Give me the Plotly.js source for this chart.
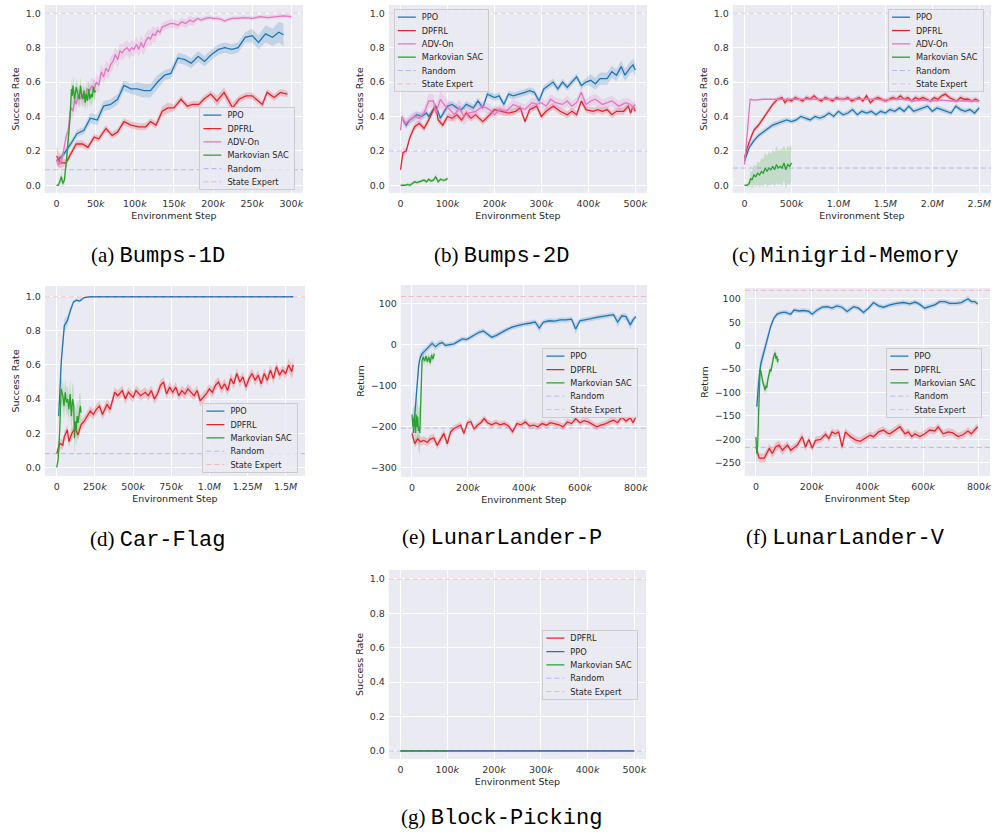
<!DOCTYPE html>
<html><head><meta charset="utf-8">
<script src="https://cdn.plot.ly/plotly-3.0.1.min.js"></script>
<style>body{margin:0;background:#fff}#chart{width:997px;height:837px}</style>
</head><body><div id="chart"></div>
<script>
// ---------------- DATA (x in thousands of environment steps) ----------------
// (a) Bumps-1D
const a_ppo_x = [0,9,18,26,35,43,52,60,69,78,86,95,103,112,120,129,138,146,155,164,172,181,189,198,207,215,224,232,241,250,258,267,276,284,290];
const a_ppo_y = [0.14,0.18,0.24,0.30,0.32,0.39,0.38,0.46,0.47,0.50,0.58,0.56,0.56,0.55,0.55,0.60,0.64,0.65,0.74,0.73,0.71,0.75,0.72,0.76,0.79,0.80,0.79,0.80,0.86,0.87,0.83,0.88,0.86,0.89,0.875];
const a_ppo_sd = [0.02,0.02,0.02,0.02,0.02,0.03,0.03,0.03,0.03,0.03,0.03,0.03,0.04,0.04,0.04,0.04,0.03,0.03,0.03,0.03,0.03,0.03,0.03,0.03,0.03,0.03,0.03,0.03,0.03,0.04,0.04,0.05,0.05,0.06,0.065];
const a_dpfrl_x = [0,5,12,18,25,33,40,48,54,63,71,78,86,95,105,114,120,127,135,142,150,159,167,174,182,188,197,205,214,225,233,242,250,263,269,278,286,295];
const a_dpfrl_y = [0.17,0.13,0.13,0.18,0.24,0.24,0.22,0.28,0.27,0.33,0.29,0.31,0.37,0.35,0.34,0.34,0.37,0.35,0.43,0.45,0.45,0.50,0.46,0.47,0.47,0.50,0.53,0.49,0.54,0.45,0.50,0.52,0.52,0.47,0.54,0.51,0.54,0.53];
const a_dpfrl_sd = [0.06,0.03,0.02,0.02,0.02,0.02,0.02,0.02,0.02,0.02,0.02,0.02,0.02,0.02,0.02,0.02,0.02,0.02,0.03,0.03,0.02,0.02,0.02,0.02,0.02,0.02,0.02,0.03,0.03,0.03,0.02,0.02,0.02,0.02,0.02,0.02,0.02,0.02];
const a_adv_x = [0,3,6,9,12,15,17,19,21,23,25,27,30,33,36,39,42,45,48,51,54,57,60,63,66,69,72,75,78,81,84,87,90,93,96,99,102,105,108,111,114,117,120,123,126,129,132,135,140,145,150,155,160,165,170,175,180,185,190,195,200,205,210,215,220,225,230,240,250,260,270,280,290,300];
const a_adv_y = [0.15,0.12,0.14,0.20,0.28,0.32,0.42,0.45,0.43,0.50,0.47,0.52,0.50,0.53,0.50,0.56,0.55,0.58,0.56,0.60,0.58,0.66,0.63,0.68,0.66,0.70,0.72,0.76,0.73,0.78,0.77,0.79,0.80,0.78,0.80,0.79,0.82,0.79,0.83,0.80,0.84,0.86,0.85,0.88,0.87,0.90,0.89,0.92,0.93,0.94,0.94,0.93,0.95,0.94,0.96,0.95,0.97,0.96,0.97,0.975,0.97,0.97,0.965,0.955,0.965,0.97,0.97,0.975,0.97,0.98,0.975,0.98,0.985,0.98];
const a_adv_sd = [0.03,0.03,0.03,0.03,0.03,0.03,0.05,0.05,0.05,0.05,0.05,0.05,0.05,0.05,0.05,0.05,0.05,0.05,0.05,0.05,0.045,0.045,0.045,0.045,0.045,0.045,0.045,0.045,0.045,0.045,0.045,0.045,0.045,0.045,0.045,0.045,0.045,0.045,0.045,0.045,0.045,0.045,0.045,0.045,0.045,0.025,0.025,0.025,0.025,0.025,0.025,0.025,0.025,0.025,0.025,0.025,0.012,0.012,0.012,0.012,0.012,0.012,0.012,0.012,0.012,0.012,0.012,0.012,0.012,0.012,0.012,0.012,0.012,0.012];
const a_sac_x = [0,2,4,6,8,10,12.5,15,17,19,20,21,23,25,27,29,30.5,32,33.5,35,36.5,38,39.5,41,42.5,44,45.5,47,48.5,50];
const a_sac_y = [0.0,0.0,0.02,0.05,0.01,0.03,0.14,0.25,0.38,0.56,0.52,0.58,0.50,0.57,0.53,0.50,0.58,0.52,0.50,0.55,0.48,0.53,0.49,0.56,0.50,0.53,0.51,0.57,0.54,0.55];
const a_sac_sd = [0.005,0.005,0.02,0.03,0.02,0.03,0.05,0.06,0.07,0.06,0.06,0.06,0.05,0.05,0.05,0.05,0.05,0.05,0.05,0.05,0.05,0.05,0.05,0.05,0.05,0.05,0.05,0.05,0.05,0.05];
const a_random = 0.09, a_expert = 1.0;

// (b) Bumps-2D
const b_ppo_x = [5,12,20,25,35,45,55,60,70,75,85,100,110,120,130,140,155,165,175,185,200,210,220,230,240,255,265,275,285,295,305,315,325,335,345,355,365,375,385,395,405,415,425,440,450,460,470,478,488,495,500];
const b_ppo_y = [0.38,0.35,0.38,0.39,0.41,0.40,0.42,0.40,0.44,0.46,0.39,0.46,0.47,0.45,0.44,0.47,0.45,0.49,0.45,0.53,0.51,0.52,0.47,0.53,0.52,0.53,0.54,0.55,0.54,0.49,0.56,0.58,0.60,0.56,0.60,0.57,0.60,0.63,0.58,0.60,0.61,0.59,0.62,0.62,0.66,0.64,0.69,0.64,0.68,0.70,0.67];
const b_ppo_sd = [0.02,0.02,0.02,0.02,0.02,0.02,0.02,0.02,0.02,0.02,0.02,0.02,0.02,0.02,0.02,0.02,0.02,0.02,0.02,0.02,0.02,0.02,0.02,0.02,0.02,0.02,0.02,0.02,0.02,0.02,0.02,0.02,0.02,0.02,0.02,0.02,0.02,0.02,0.02,0.02,0.035,0.035,0.035,0.035,0.035,0.035,0.035,0.035,0.035,0.035,0.035];
const b_dpfrl_x = [0,5,12,20,30,40,50,60,70,75,80,90,100,110,120,130,140,150,160,175,190,200,215,230,245,255,265,275,290,300,310,325,340,355,365,375,385,395,410,420,430,440,450,460,475,485,490,495,500];
const b_dpfrl_y = [0.09,0.19,0.20,0.28,0.34,0.36,0.33,0.38,0.44,0.46,0.38,0.35,0.40,0.39,0.41,0.38,0.42,0.39,0.41,0.37,0.41,0.44,0.43,0.42,0.43,0.45,0.37,0.44,0.46,0.40,0.43,0.46,0.43,0.41,0.43,0.41,0.49,0.44,0.43,0.44,0.43,0.44,0.41,0.43,0.43,0.46,0.42,0.46,0.43];
const b_dpfrl_sd = [0.02,0.02,0.02,0.02,0.02,0.02,0.02,0.02,0.02,0.02,0.02,0.02,0.02,0.02,0.02,0.02,0.02,0.02,0.02,0.02,0.02,0.02,0.02,0.02,0.02,0.02,0.02,0.02,0.02,0.02,0.02,0.02,0.02,0.02,0.02,0.02,0.02,0.02,0.02,0.02,0.02,0.02,0.02,0.02,0.02,0.02,0.02,0.02,0.02];
const b_adv_x = [0,3,10,20,30,40,50,60,70,75,85,95,105,115,125,135,145,160,175,190,200,210,225,240,255,265,280,290,300,310,320,330,345,355,365,375,385,395,405,415,430,440,450,465,480,490,495,500];
const b_adv_y = [0.32,0.40,0.36,0.38,0.40,0.39,0.42,0.49,0.49,0.42,0.50,0.46,0.44,0.41,0.45,0.40,0.42,0.43,0.46,0.44,0.41,0.44,0.43,0.47,0.45,0.44,0.48,0.47,0.48,0.46,0.50,0.48,0.47,0.49,0.46,0.48,0.54,0.47,0.49,0.50,0.47,0.48,0.49,0.46,0.48,0.47,0.45,0.47];
const b_adv_sd = [0.03,0.03,0.03,0.03,0.03,0.03,0.03,0.04,0.04,0.04,0.05,0.05,0.05,0.05,0.05,0.05,0.04,0.03,0.03,0.03,0.03,0.03,0.03,0.03,0.03,0.03,0.03,0.03,0.03,0.03,0.03,0.03,0.03,0.03,0.03,0.03,0.03,0.03,0.03,0.03,0.03,0.03,0.03,0.03,0.03,0.03,0.03,0.03];
const b_sac_x = [0,5,10,15,20,25,30,35,40,45,50,55,60,65,70,75,80,85,90,95,100];
const b_sac_y = [0.0,0.0,0.0,0.005,0.0,0.01,0.02,0.015,0.02,0.025,0.03,0.02,0.035,0.025,0.03,0.05,0.02,0.035,0.03,0.03,0.04];
const b_sac_sd = [0.003,0.003,0.005,0.01,0.01,0.01,0.01,0.01,0.01,0.01,0.01,0.01,0.01,0.01,0.01,0.015,0.01,0.01,0.01,0.01,0.01];
const b_random = 0.2, b_expert = 1.0;

// (c) Minigrid-Memory
const c_ppo_x = [0,50,100,150,200,250,300,350,400,450,500,550,600,650,700,750,800,850,900,950,1000,1050,1100,1150,1200,1250,1300,1350,1400,1450,1500,1550,1600,1650,1700,1750,1800,1850,1900,1950,2000,2050,2100,2150,2200,2250,2300,2350,2400,2450,2500];
const c_ppo_y = [0.14,0.22,0.26,0.29,0.31,0.33,0.35,0.36,0.37,0.38,0.37,0.38,0.40,0.39,0.38,0.40,0.39,0.40,0.42,0.40,0.43,0.41,0.42,0.44,0.41,0.43,0.42,0.43,0.41,0.43,0.42,0.44,0.43,0.45,0.43,0.46,0.43,0.44,0.45,0.46,0.43,0.45,0.44,0.43,0.42,0.46,0.44,0.43,0.44,0.42,0.45];
const c_ppo_sd = [0.02,0.015,0.015,0.015,0.015,0.015,0.015,0.015,0.015,0.015,0.015,0.015,0.015,0.015,0.015,0.015,0.015,0.015,0.015,0.015,0.015,0.015,0.015,0.015,0.015,0.015,0.015,0.015,0.015,0.015,0.015,0.015,0.015,0.015,0.015,0.015,0.015,0.015,0.015,0.015,0.015,0.015,0.015,0.015,0.015,0.015,0.015,0.015,0.015,0.015,0.015];
const c_dpfrl_x = [0,30,70,100,150,200,250,300,350,400,430,460,500,540,580,620,660,700,740,780,820,860,900,940,980,1020,1060,1100,1140,1180,1220,1260,1300,1340,1380,1420,1460,1500,1540,1580,1620,1660,1700,1740,1780,1820,1860,1900,1940,1980,2020,2060,2100,2140,2180,2220,2260,2300,2340,2380,2420,2460,2500];
const c_dpfrl_y = [0.16,0.22,0.28,0.32,0.35,0.39,0.43,0.47,0.50,0.51,0.48,0.50,0.49,0.51,0.50,0.49,0.51,0.50,0.52,0.50,0.49,0.51,0.50,0.49,0.51,0.50,0.50,0.51,0.49,0.50,0.51,0.49,0.52,0.48,0.50,0.51,0.50,0.49,0.50,0.51,0.50,0.52,0.50,0.51,0.49,0.51,0.50,0.51,0.50,0.49,0.51,0.50,0.52,0.53,0.51,0.50,0.49,0.51,0.50,0.50,0.49,0.50,0.49];
const c_dpfrl_sd = [0.02,0.015,0.015,0.015,0.015,0.015,0.015,0.015,0.015,0.015,0.015,0.015,0.015,0.015,0.015,0.015,0.015,0.015,0.015,0.015,0.015,0.015,0.015,0.015,0.015,0.015,0.015,0.015,0.015,0.015,0.015,0.015,0.015,0.015,0.015,0.015,0.015,0.015,0.015,0.015,0.015,0.015,0.015,0.015,0.015,0.015,0.015,0.015,0.015,0.015,0.015,0.015,0.015,0.015,0.015,0.015,0.015,0.015,0.015,0.015,0.015,0.015,0.015];
const c_adv_x = [0,60,100,200,300,400,500,600,700,800,900,1000,1100,1200,1300,1400,1500,1600,1700,1800,1900,2000,2100,2200,2300,2400,2500];
const c_adv_y = [0.12,0.50,0.495,0.50,0.50,0.50,0.50,0.50,0.50,0.50,0.50,0.50,0.50,0.50,0.50,0.50,0.495,0.50,0.50,0.49,0.495,0.49,0.495,0.49,0.49,0.49,0.49];
const c_adv_sd = [0.01,0.005,0.005,0.005,0.005,0.005,0.005,0.005,0.005,0.005,0.005,0.005,0.005,0.005,0.005,0.005,0.005,0.005,0.005,0.005,0.005,0.005,0.005,0.005,0.005,0.005,0.005];
const c_sac_x = [0,25,50,65,80,100,120,140,160,180,200,220,240,260,280,300,320,340,360,380,400,420,440,460,480,500];
const c_sac_y = [0.0,0.0,0.01,0.04,0.03,0.06,0.05,0.07,0.06,0.08,0.07,0.10,0.08,0.10,0.09,0.11,0.09,0.12,0.10,0.11,0.10,0.13,0.09,0.12,0.11,0.13];
const c_sac_sd = [0.0,0.005,0.02,0.04,0.05,0.06,0.06,0.07,0.07,0.08,0.08,0.09,0.09,0.10,0.09,0.10,0.10,0.11,0.10,0.10,0.11,0.10,0.11,0.11,0.11,0.11];
const c_random = 0.1, c_expert = 1.0;

// (d) Car-Flag
const d_ppo_x = [13,30,50,70,90,110,130,150,180,220,300,400,500,600,700,800,900,1000,1100,1200,1300,1400,1500,1550];
const d_ppo_y = [0.30,0.62,0.83,0.86,0.92,0.97,0.98,0.975,0.995,1.0,1.0,1.0,1.0,1.0,1.0,1.0,1.0,1.0,1.0,1.0,1.0,1.0,1.0,1.0];
const d_ppo_sd = [0.02,0.05,0.04,0.03,0.02,0.01,0.01,0.01,0.005,0.003,0.002,0.002,0.002,0.002,0.002,0.002,0.002,0.002,0.002,0.002,0.002,0.002,0.002,0.002];
const d_dpfrl_x = [0,20,40,50,70,80,100,120,140,160,180,200,220,240,260,280,300,330,350,380,400,430,450,470,500,520,550,580,600,620,640,660,680,700,720,740,760,780,800,820,840,860,880,900,920,940,960,980,1000,1020,1040,1060,1080,1100,1120,1140,1160,1180,1200,1220,1240,1260,1280,1300,1320,1340,1360,1380,1400,1420,1440,1460,1480,1500,1520,1540,1550];
const d_dpfrl_y = [0.08,0.14,0.13,0.18,0.22,0.15,0.20,0.23,0.19,0.25,0.27,0.30,0.33,0.31,0.34,0.36,0.31,0.37,0.34,0.44,0.42,0.45,0.40,0.44,0.41,0.45,0.42,0.44,0.42,0.45,0.40,0.43,0.48,0.50,0.43,0.47,0.44,0.47,0.42,0.45,0.43,0.46,0.44,0.42,0.45,0.39,0.41,0.43,0.46,0.44,0.48,0.50,0.46,0.49,0.45,0.52,0.49,0.55,0.50,0.53,0.47,0.52,0.55,0.51,0.54,0.49,0.55,0.51,0.57,0.52,0.59,0.54,0.57,0.55,0.60,0.56,0.60];
const d_dpfrl_sd = [0.03,0.03,0.03,0.03,0.03,0.03,0.03,0.03,0.03,0.03,0.03,0.03,0.03,0.03,0.03,0.03,0.03,0.03,0.03,0.03,0.03,0.03,0.03,0.03,0.03,0.03,0.03,0.03,0.03,0.03,0.03,0.03,0.03,0.03,0.03,0.03,0.03,0.03,0.03,0.03,0.03,0.03,0.03,0.03,0.03,0.03,0.03,0.03,0.03,0.03,0.03,0.03,0.03,0.03,0.03,0.03,0.03,0.03,0.03,0.03,0.03,0.03,0.03,0.03,0.03,0.03,0.03,0.03,0.03,0.03,0.03,0.03,0.03,0.03,0.04,0.04,0.05];
const d_sac_x = [0,10,20,29,40,48,56,64,72,80,88,96,104,112,116,122,128,134,140,148,155,160];
const d_sac_y = [0.0,0.05,0.22,0.46,0.42,0.36,0.44,0.38,0.40,0.34,0.43,0.30,0.40,0.36,0.17,0.27,0.22,0.30,0.26,0.33,0.36,0.32];
const d_sac_sd = [0.005,0.03,0.08,0.08,0.08,0.08,0.08,0.08,0.08,0.08,0.09,0.10,0.10,0.10,0.10,0.10,0.10,0.10,0.10,0.10,0.08,0.06];
const d_random = 0.08, d_expert = 1.0;

// (e) LunarLander-P
const e_ppo_x = [5,12,18,24,30,36,48,60,72,84,96,108,120,135,150,165,180,195,210,225,240,255,270,285,300,320,340,360,380,400,420,440,455,470,490,510,530,550,570,585,600,620,640,660,680,700,720,735,750,765,780,790,800];
const e_ppo_y = [-215,-160,-95,-50,-30,-22,-14,-6,3,-5,2,5,-2,0,2,8,14,12,18,25,30,33,25,18,22,30,37,43,47,50,52,55,40,55,58,57,60,60,62,38,58,60,63,66,68,70,73,55,70,68,48,60,68];
const e_ppo_sd = [30,30,20,12,10,10,8,8,8,8,8,6,6,6,6,6,6,6,6,6,6,6,6,6,6,6,6,6,6,6,6,6,10,6,6,6,6,6,6,12,6,6,6,6,6,6,6,12,6,8,12,8,6];
const e_dpfrl_x = [0,10,20,30,42,55,65,78,90,102,114,126,138,150,162,174,186,198,210,222,234,246,258,270,285,300,315,330,345,360,375,390,405,420,435,450,465,480,495,510,525,540,555,570,585,600,615,630,645,660,675,690,705,720,735,750,765,780,790,800];
const e_dpfrl_y = [-216,-241,-229,-236,-233,-238,-230,-227,-245,-230,-216,-241,-212,-204,-200,-196,-216,-190,-187,-205,-196,-190,-180,-190,-195,-190,-195,-192,-198,-212,-192,-195,-188,-198,-196,-200,-192,-196,-190,-192,-195,-200,-188,-192,-180,-190,-185,-188,-194,-200,-196,-193,-188,-184,-190,-176,-186,-178,-190,-176];
const e_dpfrl_sd = [10,10,10,10,10,10,10,10,10,10,10,10,10,8,8,8,8,8,8,8,8,8,8,8,8,8,8,8,8,8,8,8,8,8,8,8,8,8,8,8,8,8,8,8,8,8,8,8,8,8,8,8,8,8,8,8,8,8,8,8];
const e_sac_x = [0,3,5,8,10,13,15,18,20,23,25,28,30,33,36,40,45,50,55,60,65,70,75,80];
const e_sac_y = [-170,-200,-185,-175,-190,-215,-170,-200,-175,-210,-200,-215,-170,-100,-40,-30,-40,-28,-42,-30,-45,-25,-35,-22];
const e_sac_sd = [20,30,30,30,35,40,40,45,45,50,55,60,50,40,15,12,10,10,12,10,10,10,10,8];
const e_random = -203, e_expert = 117;

// (f) LunarLander-V
const f_ppo_x = [3,8,13,18,30,42,53,65,77,95,107,125,137,155,172,190,202,220,238,256,273,291,309,327,351,368,386,404,422,440,458,481,505,529,553,571,588,606,624,642,660,678,695,719,737,761,773,785,796];
const f_ppo_y = [-130,-90,-60,-38,-13,16,41,59,68,71,71,67,76,74,75,73,67,76,82,83,80,85,82,73,83,80,71,80,92,85,82,87,90,92,89,93,88,80,84,87,94,94,90,90,92,100,94,94,89];
const f_ppo_sd = [40,30,20,15,12,10,8,6,5,5,5,5,5,5,5,5,6,5,5,5,5,5,5,6,5,5,6,5,5,5,5,5,5,5,5,5,5,6,5,5,5,5,5,5,5,6,5,5,5];
const f_dpfrl_x = [0,12,30,48,59,71,83,95,113,125,149,166,178,190,202,214,232,250,262,273,285,297,309,321,339,357,374,392,410,422,440,458,470,481,499,517,535,547,559,571,588,606,624,642,654,672,690,707,725,743,761,773,785,796];
const f_dpfrl_y = [-216,-240,-240,-219,-230,-216,-212,-223,-212,-223,-212,-194,-216,-200,-219,-202,-200,-189,-198,-184,-188,-184,-216,-184,-194,-201,-204,-198,-191,-194,-184,-180,-186,-188,-180,-173,-188,-184,-194,-188,-194,-188,-180,-182,-173,-188,-184,-186,-194,-190,-182,-188,-180,-173];
const f_dpfrl_sd = [12,10,10,10,10,10,10,10,8,8,8,10,8,8,8,8,8,8,8,8,8,8,8,8,8,8,8,8,8,8,8,8,8,8,8,8,8,8,8,8,8,8,8,8,8,8,8,8,8,8,8,8,8,8];
const f_sac_x = [0,3,6,9,12,15,18,21,24,27,30,33,36,39,42,45,48,51,54,57,60,63,66,69,72,75,78,80];
const f_sac_y = [-195,-230,-215,-150,-90,-50,-55,-68,-75,-82,-88,-95,-85,-90,-75,-65,-60,-50,-55,-40,-35,-25,-20,-15,-28,-22,-35,-28];
const f_sac_sd = [20,25,25,25,20,15,10,10,10,10,12,12,10,10,10,10,10,10,10,10,8,8,8,8,8,8,8,8];
const f_random = -217, f_expert = 118;

// (g) Block-Picking
const g_dpfrl_x = [0,100,200,300,400,500];
const g_dpfrl_y = [0,0,0,0,0,0];
const g_ppo_x = [0,100,200,300,400,500];
const g_ppo_y = [0,0,0,0,0,0];
const g_sac_x = [0,20,40,60,80,100];
const g_sac_y = [0,0,0,0,0,0];
const g_zero_sd = [0,0,0,0,0,0];
const g_random = 0.0, g_expert = 1.0;

// ticks
const sr_yticks = [0,0.2,0.4,0.6,0.8,1.0];
const sr_ylabels = ['0.0','0.2','0.4','0.6','0.8','1.0'];
const a_xticks = [0,50,100,150,200,250,300];
const a_xlabels = ['0','50<i>k</i>','100<i>k</i>','150<i>k</i>','200<i>k</i>','250<i>k</i>','300<i>k</i>'];
const b_xticks = [0,100,200,300,400,500];
const b_xlabels = ['0','100<i>k</i>','200<i>k</i>','300<i>k</i>','400<i>k</i>','500<i>k</i>'];
const c_xticks = [0,500,1000,1500,2000,2500];
const c_xlabels = ['0','500<i>k</i>','1.0<i>M</i>','1.5<i>M</i>','2.0<i>M</i>','2.5<i>M</i>'];
const d_xticks = [0,250,500,750,1000,1250,1500];
const d_xlabels = ['0','250<i>k</i>','500<i>k</i>','750<i>k</i>','1.0<i>M</i>','1.25<i>M</i>','1.5<i>M</i>'];
const ef_xticks = [0,200,400,600,800];
const ef_xlabels = ['0','200<i>k</i>','400<i>k</i>','600<i>k</i>','800<i>k</i>'];
const e_yticks = [-300,-200,-100,0,100];
const e_ylabels = ['\u2212300','\u2212200','\u2212100','0','100'];
const f_yticks = [-250,-200,-150,-100,-50,0,50,100];
const f_ylabels = ['\u2212250','\u2212200','\u2212150','\u2212100','\u221250','0','50','100'];

// ---------------- STYLE / LAYOUT ----------------
const W = 997, H = 837;
const C = {ppo:'#1f77b4', dpfrl:'#e3242b', adv:'#e377c2', sac:'#2ca02c', rnd:'rgba(120,120,255,0.45)', exp:'rgba(255,120,130,0.45)'};
const F = {ppo:'rgba(31,119,180,0.2)', dpfrl:'rgba(227,36,43,0.2)', adv:'rgba(227,119,194,0.2)', sac:'rgba(44,160,44,0.2)'};

const panels = [
  {box:[45,5,304,193], xr:[-15,315], yr:[-0.045,1.048], xt:a_xticks, xl:a_xlabels, yt:sr_yticks, yl:sr_ylabels, ytitle:'Success Rate', leg:[200,107], cap:['(a)','Bumps-1D'], capc:[158,256]},
  {box:[390,5,649,193], xr:[-25,525], yr:[-0.045,1.048], xt:b_xticks, xl:b_xlabels, yt:sr_yticks, yl:sr_ylabels, ytitle:'Success Rate', leg:[395,9], cap:['(b)','Bumps-2D'], capc:[503,256]},
  {box:[735,5,994,193], xr:[-125,2625], yr:[-0.045,1.048], xt:c_xticks, xl:c_xlabels, yt:sr_yticks, yl:sr_ylabels, ytitle:'Success Rate', leg:[891,9], cap:['(c)','Minigrid-Memory'], capc:[848,256]},
  {box:[45,286,306,476], xr:[-77.5,1627.5], yr:[-0.051,1.063], xt:d_xticks, xl:d_xlabels, yt:sr_yticks, yl:sr_ylabels, ytitle:'Success Rate', leg:[203,403], cap:['(d)','Car-Flag'], capc:[158,540]},
  {box:[402,285,649,477], xr:[-40,840], yr:[-322,145], xt:ef_xticks, xl:ef_xlabels, yt:e_yticks, yl:e_ylabels, ytitle:'Return', leg:[544,348], cap:['(e)','LunarLander-P'], capc:[504,538]},
  {box:[747,288,993,476], xr:[-40,840], yr:[-278,123], xt:ef_xticks, xl:ef_xlabels, yt:f_yticks, yl:f_ylabels, ytitle:'Return', leg:[889,348], cap:['(f)','LunarLander-V'], capc:[848,538]},
  {box:[390,570,648,759], xr:[-25,525], yr:[-0.047,1.052], xt:b_xticks, xl:b_xlabels, yt:sr_yticks, yl:sr_ylabels, ytitle:'Success Rate', leg:[544,630], cap:['(g)','Block-Picking'], capc:[503,818]}
];

const traces = [];
const sfx = p => (p > 1 ? String(p) : '');
const legId = p => 'legend' + sfx(p);

function series(p, name, key, xs, ys, sd, rank) {
  const xa = 'x' + sfx(p), ya = 'y' + sfx(p);
  const lo = ys.map((v, i) => v - sd[i]);
  const hi = ys.map((v, i) => v + sd[i]);
  traces.push({x: xs, y: lo, xaxis: xa, yaxis: ya, mode: 'lines', line: {width: 0, color: F[key]}, showlegend: false, hoverinfo: 'skip'});
  traces.push({x: xs, y: hi, xaxis: xa, yaxis: ya, mode: 'lines', line: {width: 0, color: F[key]}, fill: 'tonexty', fillcolor: F[key], showlegend: false, hoverinfo: 'skip'});
  traces.push({x: xs, y: ys, xaxis: xa, yaxis: ya, mode: 'lines', name: name, line: {color: C[key], width: 1.3}, legend: legId(p), legendrank: rank});
}
function hline(p, name, key, v, rank) {
  const xr = panels[p - 1].xr;
  traces.push({x: [xr[0], xr[1]], y: [v, v], xaxis: 'x' + sfx(p), yaxis: 'y' + sfx(p), mode: 'lines', name: name,
    line: {color: C[key], width: 1, dash: '5px,3px'}, legend: legId(p), legendrank: rank});
}

// (a)
series(1, 'PPO', 'ppo', a_ppo_x, a_ppo_y, a_ppo_sd, 1);
series(1, 'DPFRL', 'dpfrl', a_dpfrl_x, a_dpfrl_y, a_dpfrl_sd, 2);
series(1, 'ADV-On', 'adv', a_adv_x, a_adv_y, a_adv_sd, 3);
series(1, 'Markovian SAC', 'sac', a_sac_x, a_sac_y, a_sac_sd, 4);
hline(1, 'Random', 'rnd', a_random, 5);
hline(1, 'State Expert', 'exp', a_expert, 6);
// (b)
series(2, 'PPO', 'ppo', b_ppo_x, b_ppo_y, b_ppo_sd, 1);
series(2, 'DPFRL', 'dpfrl', b_dpfrl_x, b_dpfrl_y, b_dpfrl_sd, 2);
series(2, 'ADV-On', 'adv', b_adv_x, b_adv_y, b_adv_sd, 3);
series(2, 'Markovian SAC', 'sac', b_sac_x, b_sac_y, b_sac_sd, 4);
hline(2, 'Random', 'rnd', b_random, 5);
hline(2, 'State Expert', 'exp', b_expert, 6);
// (c)
series(3, 'PPO', 'ppo', c_ppo_x, c_ppo_y, c_ppo_sd, 1);
series(3, 'DPFRL', 'dpfrl', c_dpfrl_x, c_dpfrl_y, c_dpfrl_sd, 2);
series(3, 'ADV-On', 'adv', c_adv_x, c_adv_y, c_adv_sd, 3);
series(3, 'Markovian SAC', 'sac', c_sac_x, c_sac_y, c_sac_sd, 4);
hline(3, 'Random', 'rnd', c_random, 5);
hline(3, 'State Expert', 'exp', c_expert, 6);
// (d)
series(4, 'PPO', 'ppo', d_ppo_x, d_ppo_y, d_ppo_sd, 1);
series(4, 'DPFRL', 'dpfrl', d_dpfrl_x, d_dpfrl_y, d_dpfrl_sd, 2);
series(4, 'Markovian SAC', 'sac', d_sac_x, d_sac_y, d_sac_sd, 3);
hline(4, 'Random', 'rnd', d_random, 4);
hline(4, 'State Expert', 'exp', d_expert, 5);
// (e)
series(5, 'PPO', 'ppo', e_ppo_x, e_ppo_y, e_ppo_sd, 1);
series(5, 'DPFRL', 'dpfrl', e_dpfrl_x, e_dpfrl_y, e_dpfrl_sd, 2);
series(5, 'Markovian SAC', 'sac', e_sac_x, e_sac_y, e_sac_sd, 3);
hline(5, 'Random', 'rnd', e_random, 4);
hline(5, 'State Expert', 'exp', e_expert, 5);
// (f)
series(6, 'PPO', 'ppo', f_ppo_x, f_ppo_y, f_ppo_sd, 1);
series(6, 'DPFRL', 'dpfrl', f_dpfrl_x, f_dpfrl_y, f_dpfrl_sd, 2);
series(6, 'Markovian SAC', 'sac', f_sac_x, f_sac_y, f_sac_sd, 3);
hline(6, 'Random', 'rnd', f_random, 4);
hline(6, 'State Expert', 'exp', f_expert, 5);
// (g)
series(7, 'DPFRL', 'dpfrl', g_dpfrl_x, g_dpfrl_y, g_zero_sd, 1);
series(7, 'PPO', 'ppo', g_ppo_x, g_ppo_y, g_zero_sd, 2);
series(7, 'Markovian SAC', 'sac', g_sac_x, g_sac_y, g_zero_sd, 3);
hline(7, 'Random', 'rnd', g_random, 4);
hline(7, 'State Expert', 'exp', g_expert, 5);

const layout = {
  width: W, height: H, margin: {l: 0, r: 0, t: 0, b: 0},
  paper_bgcolor: '#ffffff', plot_bgcolor: '#EAEAF2',
  font: {family: 'DejaVu Sans', color: '#262626'},
  hovermode: false, showlegend: true, annotations: []
};
const tickFont = {family: 'DejaVu Sans', size: 9.5, color: '#333333'};
const titleFont = {family: 'DejaVu Sans', size: 9.5, color: '#262626'};

panels.forEach((pn, i) => {
  const p = i + 1, s = sfx(p);
  const [x0, y0, x1, y1] = pn.box;
  layout['xaxis' + s] = {
    domain: [x0 / W, x1 / W], anchor: 'y' + s, range: pn.xr, fixedrange: true,
    tickmode: 'array', tickvals: pn.xt, ticktext: pn.xl, ticks: '', tickfont: tickFont, ticklabelstandoff: 3,
    showgrid: true, gridcolor: '#ffffff', gridwidth: 1, zeroline: false, showline: false,
    title: {text: 'Environment Step', font: titleFont, standoff: 4}
  };
  layout['yaxis' + s] = {
    domain: [1 - y1 / H, 1 - y0 / H], anchor: 'x' + s, range: pn.yr, fixedrange: true,
    tickmode: 'array', tickvals: pn.yt, ticktext: pn.yl, ticks: '', tickfont: tickFont, ticklabelstandoff: 3,
    showgrid: true, gridcolor: '#ffffff', gridwidth: 1, zeroline: false, showline: false,
    title: {text: pn.ytitle, font: titleFont, standoff: 4}
  };
  layout[legId(p)] = {
    x: pn.leg[0] / W, y: 1 - pn.leg[1] / H, xanchor: 'left', yanchor: 'top', traceorder: 'normal',
    bgcolor: 'rgba(234,234,242,0.8)', bordercolor: '#cccccc', borderwidth: 1,
    font: {family: 'DejaVu Sans', size: 8.2, color: '#262626'}, tracegroupgap: 0
  };
  layout.annotations.push({
    xref: 'paper', yref: 'paper', x: pn.capc[0] / W, y: 1 - pn.capc[1] / H,
    xanchor: 'center', yanchor: 'middle', showarrow: false,
    text: pn.cap[0] + ' <span style="font-family:Liberation Mono;font-size:22px">' + pn.cap[1] + '</span>',
    font: {family: 'Liberation Serif', size: 21, color: '#000000'}
  });
});

// compact legend spacing to match the reference (Plotly enforces a 19px minimum row height)
function tidyLegends(gd) {
  const S = 13.33, PADY = 7.7, TX = 27;
  gd.querySelectorAll('g.infolayer > g').forEach(g => {
    const cls = g.getAttribute('class') || '';
    if (!/^legend\d*$/.test(cls)) return;
    const bg = g.querySelector('rect.bg');
    const items = Array.from(g.querySelectorAll('g.traces'));
    if (!bg || !items.length) return;
    const parse = el => {
      const m = /translate\(\s*([-\d.eE]+)[,\s]+([-\d.eE]+)\s*\)/.exec(el.getAttribute('transform') || '');
      return m ? [+m[1], +m[2]] : [0, 0];
    };
    let maxW = 0;
    items.forEach(it => {
      it.querySelectorAll('g.legendlines path').forEach(pth => pth.setAttribute('d', 'M3,0h18'));
      const t = it.querySelector('text');
      if (t) {
        t.setAttribute('x', TX);
        t.querySelectorAll('tspan').forEach(ts => { if (ts.hasAttribute('x')) ts.setAttribute('x', TX); });
        maxW = Math.max(maxW, t.getBBox().width);
      }
    });
    const bgTop = bg.getBoundingClientRect().top;
    const cur = items.map(it => {
      const pth = it.querySelector('g.legendlines path');
      const r = (pth || it).getBoundingClientRect();
      return (r.top + r.bottom) / 2;
    });
    items.forEach((it, i) => {
      const p = parse(it);
      const target = bgTop + PADY + i * S;
      it.setAttribute('transform', 'translate(' + p[0] + ',' + (p[1] + target - cur[i]) + ')');
    });
    bg.setAttribute('height', 2 * PADY + (items.length - 1) * S);
    bg.setAttribute('width', TX + maxW + 6);
  });
}

Plotly.newPlot('chart', traces, layout, {displayModeBar: false, responsive: false}).then(gd => tidyLegends(gd));
</script>
</body></html>
